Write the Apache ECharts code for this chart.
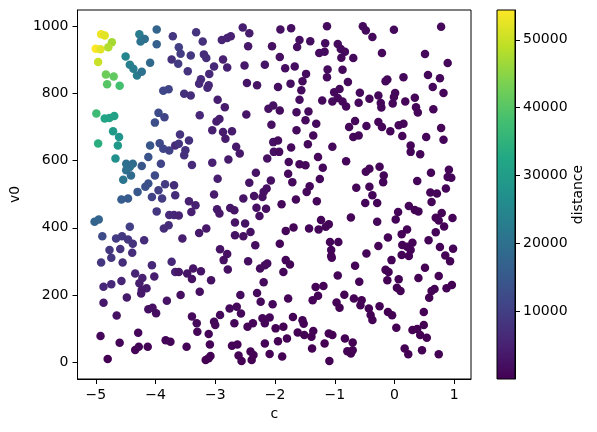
<!DOCTYPE html>
<html>
<head>
<meta charset="utf-8">
<script src="https://cdn.jsdelivr.net/npm/echarts@6/dist/echarts.min.js"></script>
<style>
  html, body { margin: 0; padding: 0; background: #fff; }
  #chart { width: 597px; height: 432px; }
</style>
</head>
<body>
<div id="chart"></div>
<script>
// each point: [c, v0, distance]
const brightPts = [
  [-4.91, 976, 53000], [-4.85, 972, 52000], [-4.73, 952, 47000], [-5.00, 933, 54400],
  [-4.92, 931, 52000], [-4.79, 937, 48000], [-4.96, 893, 50000], [-4.83, 856, 42000],
  [-4.70, 850, 41000], [-4.81, 827, 40000], [-4.60, 823, 38000], [-4.99, 740, 37000],
  [-4.85, 725, 32000], [-4.77, 727, 31500], [-4.69, 733, 31000], [-4.71, 687, 29000],
  [-4.61, 670, 28000], [-4.96, 651, 34000], [-4.63, 645, 29000], [-4.67, 606, 27000]
];

const leftUpperPts = [
  [-4.27, 976, 22500], [-4.18, 962, 20000], [-4.25, 954, 20500], [-3.98, 990, 17500],
  [-3.98, 946, 16500], [-4.50, 910, 24500], [-4.43, 885, 23500], [-4.37, 873, 23000],
  [-4.31, 853, 22500], [-4.23, 864, 20500], [-4.09, 891, 18500], [-3.87, 808, 11500],
  [-3.78, 812, 11000], [-3.95, 742, 12500], [-3.85, 729, 11000], [-4.01, 713, 13000],
  [-3.71, 970, 8500], [-3.73, 901, 7500], [-4.49, 591, 20000], [-4.38, 591, 19000],
  [-4.43, 581, 19500], [-4.49, 571, 20000], [-4.41, 556, 19000], [-4.54, 543, 21000],
  [-4.23, 584, 14500], [-4.09, 645, 14500], [-4.12, 611, 14000], [-3.93, 652, 12000],
  [-3.87, 635, 11500], [-3.77, 630, 10500], [-3.91, 591, 11000], [-3.67, 645, 6500],
  [-4.01, 556, 12000], [-4.12, 532, 13500], [-4.17, 522, 13500], [-4.30, 507, 15000],
  [-3.84, 530, 9500], [-3.95, 512, 10000], [-4.06, 492, 10500], [-3.89, 487, 9500],
  [-3.69, 527, 7000], [-3.67, 497, 7000], [-4.57, 484, 16000], [-4.46, 487, 15500],
  [-3.98, 449, 8500], [-3.77, 438, 6500], [-3.69, 438, 6000], [-5.02, 418, 17500],
  [-4.95, 425, 17500], [-4.43, 403, 10000], [-3.86, 398, 7000], [-3.78, 408, 7000],
  [-4.89, 375, 12500], [-4.66, 368, 9500], [-4.56, 375, 9000], [-4.46, 365, 8500],
  [-4.38, 353, 8000], [-4.19, 363, 7000], [-4.77, 334, 8500], [-4.59, 337, 8000],
  [-4.39, 326, 7000]
];

const leftLowerPts = [
  [-4.91, 297, 8500], [-4.74, 311, 8500], [-4.55, 297, 7000], [-4.34, 264, 5500],
  [-4.22, 251, 5000], [-4.27, 235, 4500], [-4.23, 215, 4000], [-4.15, 220, 4000],
  [-4.24, 205, 3800], [-4.06, 289, 6000], [-4.02, 255, 4500], [-4.87, 225, 6000],
  [-4.74, 232, 6000], [-4.57, 242, 5500], [-4.48, 193, 4000], [-4.87, 177, 3500],
  [-4.65, 139, 2500], [-4.12, 158, 2300], [-4.05, 162, 2400], [-3.99, 146, 2000],
  [-3.81, 183, 2800], [-3.73, 299, 6000], [-3.67, 269, 5000], [-4.92, 78, 1000],
  [-4.60, 58, 600], [-4.29, 88, 800], [-4.34, 37, 300], [-4.28, 46, 400],
  [-4.13, 46, 400], [-4.80, 10, 20], [-3.83, 66, 500], [-3.75, 61, 450]
];

const midPts = [
  [-3.61, 937, 10000], [-3.58, 918, 9500], [-3.62, 888, 9500], [-3.32, 982, 8000],
  [-3.21, 954, 7500], [-3.41, 913, 8500], [-3.46, 866, 8000], [-3.19, 916, 7000],
  [-3.15, 905, 7000], [-3.02, 880, 6000], [-3.10, 858, 6000], [-3.24, 842, 6500],
  [-3.27, 829, 6500], [-3.11, 824, 6000], [-3.13, 817, 6000], [-3.52, 799, 7500],
  [-3.41, 794, 7000], [-2.89, 959, 5500], [-2.80, 965, 5200], [-2.74, 970, 5000],
  [-2.87, 901, 5000], [-2.80, 877, 4600], [-2.54, 996, 4500], [-2.43, 979, 4200],
  [-2.45, 940, 3500], [-2.51, 883, 3500], [-2.17, 885, 3000], [-2.47, 831, 3000],
  [-2.30, 824, 2800], [-2.05, 940, 2500], [-2.96, 781, 4500], [-2.84, 759, 4200],
  [-3.26, 735, 6000], [-2.98, 716, 4500], [-2.93, 724, 4400], [-3.05, 690, 4800],
  [-2.87, 685, 4300], [-2.72, 687, 4000], [-2.48, 737, 3000], [-2.11, 754, 2500],
  [-2.03, 764, 2400], [-2.06, 707, 2200],
  [-3.59, 678, 8000], [-3.44, 660, 7500], [-3.61, 650, 8000], [-3.50, 631, 7500],
  [-3.52, 616, 7500], [-3.39, 587, 6500], [-2.83, 665, 4200], [-2.65, 641, 3800],
  [-2.59, 621, 3600], [-2.78, 603, 4000], [-3.05, 594, 5000], [-2.96, 546, 4500],
  [-2.32, 564, 2800], [-2.13, 606, 2500], [-2.03, 655, 2300], [-2.02, 626, 2200],
  [-2.43, 534, 3000], [-2.07, 541, 2200], [-2.14, 517, 2200], [-2.19, 507, 2300],
  [-3.02, 499, 4200], [-2.53, 487, 3000], [-2.35, 495, 2600], [-2.21, 492, 2300],
  [-3.44, 479, 5000], [-3.33, 467, 4800], [-3.40, 447, 4800], [-3.61, 437, 5500],
  [-2.97, 455, 3800], [-2.93, 443, 3600], [-2.75, 459, 3300], [-2.68, 452, 3100],
  [-2.31, 460, 2500], [-2.15, 457, 2200], [-2.26, 435, 2300], [-2.67, 416, 2800],
  [-2.50, 413, 2600], [-2.41, 388, 2300], [-3.27, 385, 3800], [-3.15, 398, 3600],
  [-3.55, 368, 4500], [-2.67, 378, 2600], [-2.53, 375, 2400], [-2.33, 348, 2000],
  [-2.92, 336, 2800], [-2.80, 322, 2500],
  [-2.86, 304, 2500], [-2.45, 301, 1800], [-2.25, 279, 1600], [-2.17, 289, 1600],
  [-2.13, 294, 1600], [-2.79, 276, 2300], [-3.61, 269, 3300], [-3.47, 264, 3000],
  [-3.37, 279, 3100], [-3.24, 271, 2900], [-3.39, 248, 2700], [-3.07, 244, 2400],
  [-2.19, 238, 1400], [-3.58, 200, 2100], [-3.26, 210, 2000], [-2.58, 200, 1500],
  [-2.30, 206, 1300], [-2.24, 180, 1100], [-2.04, 173, 1000], [-2.76, 160, 1200],
  [-2.64, 165, 1200], [-2.57, 145, 1000], [-2.92, 141, 1200], [-3.02, 121, 1000],
  [-3.00, 111, 950], [-3.39, 136, 1400], [-3.31, 116, 1100], [-2.68, 116, 850],
  [-2.46, 106, 700], [-2.37, 116, 750], [-2.21, 131, 800], [-2.09, 133, 750],
  [-2.17, 116, 650], [-3.30, 91, 700], [-3.11, 84, 600], [-3.09, 53, 350],
  [-3.48, 46, 350], [-2.72, 49, 300], [-2.63, 53, 300], [-3.08, 19, 100],
  [-3.16, 7, 40], [-3.11, 12, 70], [-2.61, 20, 100], [-2.56, 4, 20],
  [-2.41, 32, 150], [-2.36, 22, 100], [-2.39, 7, 30], [-2.17, 56, 250],
  [-2.09, 25, 100]
];

const rightPts = [
  [-1.91, 990, 2400], [-1.73, 994, 2200], [-1.13, 1000, 1700], [-0.53, 1000, 1400],
  [-0.48, 987, 1400], [-0.37, 968, 1300], [-1.59, 959, 2000], [-1.63, 938, 2000],
  [-1.41, 955, 1800], [-1.16, 949, 1600], [-1.26, 920, 1600], [-1.17, 924, 1600],
  [-0.95, 947, 1500], [-0.90, 932, 1450], [-0.83, 924, 1400], [-0.89, 906, 1400],
  [-0.69, 905, 1300], [-1.92, 908, 2200], [-1.83, 875, 2000], [-1.67, 880, 1900],
  [-1.48, 858, 1700], [-1.12, 871, 1500], [-1.13, 848, 1450], [-0.87, 870, 1300],
  [-1.95, 819, 2000], [-1.74, 829, 1800], [-1.54, 836, 1700], [-1.56, 809, 1600],
  [-1.59, 781, 1600], [-0.78, 834, 1250], [-1.01, 803, 1300], [-0.92, 813, 1250],
  [-0.95, 786, 1200], [-0.87, 776, 1150], [-0.81, 761, 1100], [-1.04, 776, 1200],
  [-1.21, 779, 1300], [-0.58, 802, 1100], [-0.42, 784, 1050], [-0.60, 772, 1050],
  [-1.92, 749, 1700], [-1.64, 744, 1500], [-1.44, 746, 1400], [-1.49, 720, 1350],
  [-1.31, 710, 1250], [-1.64, 690, 1400], [-0.66, 718, 1000], [-0.76, 700, 1000],
  [-0.47, 703, 950],
  [-0.01, 989, 1200], [0.78, 998, 1100], [-0.21, 920, 1150], [0.51, 917, 1050],
  [0.89, 890, 950], [-0.12, 841, 1000], [-0.15, 836, 1000], [0.15, 848, 950],
  [0.56, 855, 950], [0.76, 845, 900], [0.64, 819, 880], [0.82, 801, 850],
  [-0.27, 794, 950], [0.01, 801, 900], [-0.01, 789, 900], [-0.23, 771, 900],
  [-0.22, 758, 880], [-0.03, 770, 870], [0.18, 776, 850], [0.34, 787, 850],
  [0.36, 759, 820], [0.39, 743, 800], [0.65, 753, 780], [-0.27, 715, 800],
  [-0.21, 700, 780], [-0.07, 687, 760], [0.07, 705, 760], [0.15, 710, 750],
  [0.78, 697, 700],
  [-1.36, 675, 1200], [-0.69, 670, 950], [-0.60, 675, 900], [-1.95, 660, 1500],
  [-1.93, 626, 1400], [-1.73, 639, 1300], [-1.45, 649, 1200], [-1.04, 641, 1000],
  [-1.77, 596, 1250], [-1.78, 561, 1150], [-1.59, 589, 1150], [-1.49, 586, 1100],
  [-1.28, 611, 1050], [-1.20, 579, 1000], [-0.81, 598, 850], [-1.71, 536, 1050],
  [-1.25, 545, 950], [-1.42, 524, 950], [-1.47, 507, 920], [-0.48, 567, 750],
  [-0.42, 576, 750], [-0.64, 519, 700], [-0.42, 522, 680], [-0.37, 497, 650],
  [-0.49, 474, 620], [-1.65, 484, 900], [-1.30, 479, 800], [-1.89, 470, 950],
  [-0.73, 431, 560], [-1.23, 423, 650], [-1.10, 411, 600], [-1.27, 395, 600],
  [-1.15, 403, 600], [-1.43, 398, 650], [-1.69, 401, 700], [-1.82, 391, 720],
  [-1.92, 353, 650], [-1.08, 358, 480], [-0.94, 358, 460], [-1.06, 334, 430],
  [-1.06, 316, 400], [-0.47, 324, 350],
  [0.13, 673, 700], [0.53, 670, 650], [0.82, 662, 620], [0.27, 645, 650],
  [0.27, 626, 630], [0.43, 619, 600], [-0.25, 582, 650], [-0.18, 556, 600],
  [-0.19, 536, 580], [0.38, 539, 520], [0.61, 564, 520], [0.91, 573, 500],
  [0.89, 551, 480], [0.95, 549, 470], [0.60, 505, 450], [0.71, 502, 440],
  [0.86, 517, 440], [0.62, 477, 420], [-0.29, 474, 500], [0.24, 465, 430],
  [0.34, 453, 410], [0.40, 449, 400], [0.06, 447, 420], [0.02, 425, 400],
  [0.79, 444, 380], [0.69, 430, 370], [0.74, 422, 360], [0.97, 429, 360],
  [0.83, 404, 340], [-0.29, 418, 430], [0.21, 395, 360], [0.12, 381, 350],
  [-0.11, 371, 350], [0.57, 363, 320], [0.69, 387, 330], [0.30, 356, 310],
  [0.13, 349, 310], [0.21, 344, 300], [0.27, 334, 290], [0.12, 319, 280],
  [0.24, 316, 270], [-0.27, 346, 330], [0.76, 343, 290], [0.98, 338, 280],
  [0.85, 318, 260],
  [-1.82, 304, 600], [-1.75, 291, 560], [-1.86, 269, 500], [-1.05, 311, 420],
  [-0.66, 287, 320], [-0.95, 258, 300], [-0.59, 240, 250], [-1.32, 224, 330],
  [-1.19, 227, 320], [-1.28, 198, 270], [-1.37, 185, 250], [-0.84, 201, 220],
  [-1.78, 190, 300], [-0.97, 178, 200], [-0.92, 162, 180], [-0.68, 190, 180],
  [-0.55, 185, 170], [-0.57, 170, 150], [-0.43, 160, 130], [-0.40, 141, 110],
  [-0.37, 126, 100], [-1.70, 135, 180], [-1.54, 125, 160], [-1.52, 115, 140],
  [-1.86, 106, 140], [-1.99, 101, 140], [-1.62, 89, 100], [-1.51, 81, 80],
  [-1.39, 76, 70], [-1.36, 93, 100], [-1.80, 71, 80], [-1.95, 63, 70],
  [-1.10, 86, 70], [-1.04, 81, 60], [-1.17, 56, 40], [-1.38, 41, 25],
  [-0.83, 71, 40], [-0.70, 59, 30], [-0.79, 33, 10], [-0.73, 26, 8],
  [-0.70, 36, 12], [-1.88, 17, 5], [-1.09, 4, 1],
  [-0.05, 304, 250], [0.93, 301, 200], [-0.15, 275, 220], [-0.10, 269, 210],
  [-0.12, 244, 180], [0.07, 247, 170], [0.04, 222, 150], [0.10, 212, 140],
  [0.51, 281, 190], [0.40, 251, 160], [0.74, 257, 160], [0.67, 218, 120],
  [0.62, 212, 115], [0.58, 192, 100], [0.87, 220, 110], [0.96, 230, 120],
  [-0.25, 167, 90], [-0.11, 150, 75], [-0.04, 140, 65], [0.49, 150, 65],
  [0.03, 103, 35], [0.30, 96, 30], [0.38, 99, 30], [0.49, 111, 35],
  [0.43, 81, 20], [0.54, 73, 15], [0.17, 41, 6], [0.23, 24, 2],
  [0.46, 36, 4], [0.74, 24, 2]
];

const xTicks = [-5, -4, -3, -2, -1, 0, 1];
const yTicks = [0, 200, 400, 600, 800, 1000];
const distMin = 0;
const distMax = 54400;

const viridis = ['#440154', '#482475', '#414487', '#355f8d', '#2a788e', '#21918c',
  '#22a884', '#44bf70', '#7ad151', '#bddf26', '#fde725'];

const allPts = brightPts.concat(leftUpperPts, leftLowerPts, midPts, rightPts);

const font = 'DejaVu Sans';
const minus = v => (v < 0 ? '\u2212' + Math.abs(v) : String(v));

var chart = echarts.init(document.getElementById('chart'), null, { renderer: 'canvas' });

// colorbar gradient, yellow on top
var barStops = viridis.map((c, i) => ({ offset: 1 - i / (viridis.length - 1), color: c }));

var option = {
  animation: false,
  backgroundColor: '#fff',
  grid: [
    { left: 74, top: 10, width: 397, height: 369, show: true, borderColor: '#000', borderWidth: 1, backgroundColor: 'transparent' },
    { left: 497, top: 10, width: 18, height: 369, show: true, borderColor: '#000', borderWidth: 1,
      backgroundColor: new echarts.graphic.LinearGradient(0, 0, 0, 1, barStops) }
  ],
  xAxis: [
    {
      gridIndex: 0, type: 'value', min: -5.305, max: 1.28,
      name: 'c', nameLocation: 'middle', nameGap: 27,
      nameTextStyle: { fontFamily: font, fontSize: 14, color: '#000' },
      axisLine: { onZero: false, lineStyle: { color: '#000', width: 1 } },
      axisTick: { show: true, length: 5, lineStyle: { color: '#000' }, customValues: xTicks },
      axisLabel: { fontFamily: font, fontSize: 14, color: '#000', margin: 9, customValues: xTicks, formatter: minus },
      splitLine: { show: false }
    },
    { gridIndex: 1, type: 'value', min: 0, max: 1, show: false }
  ],
  yAxis: [
    {
      gridIndex: 0, type: 'value', min: -49.6, max: 1048,
      name: 'v0', nameLocation: 'middle', nameGap: 48, nameRotate: 90,
      nameTextStyle: { fontFamily: font, fontSize: 14, color: '#000' },
      axisLine: { onZero: false, lineStyle: { color: '#000', width: 1 } },
      axisTick: { show: true, length: 5, lineStyle: { color: '#000' }, customValues: yTicks },
      axisLabel: { fontFamily: font, fontSize: 14, color: '#000', margin: 9, customValues: yTicks, formatter: minus },
      splitLine: { show: false }
    },
    {
      gridIndex: 1, type: 'value', position: 'right', min: distMin, max: distMax, interval: 10000,
      name: 'distance', nameLocation: 'middle', nameGap: 55, nameRotate: 90,
      nameTextStyle: { fontFamily: font, fontSize: 14, color: '#000' },
      axisLine: { show: true, onZero: false, lineStyle: { color: '#000', width: 1 } },
      axisTick: { show: true, length: 5, lineStyle: { color: '#000' } },
      axisLabel: { fontFamily: font, fontSize: 14, color: '#000', margin: 8,
        showMinLabel: false, showMaxLabel: false, formatter: v => String(v) },
      splitLine: { show: false }
    }
  ],
  visualMap: {
    show: false, type: 'continuous', seriesIndex: 0, dimension: 2,
    min: distMin, max: distMax, inRange: { color: viridis }
  },
  series: [
    {
      type: 'scatter', xAxisIndex: 0, yAxisIndex: 0,
      symbol: 'circle', symbolSize: 8.5,
      itemStyle: { opacity: 1 },
      data: allPts
    }
  ]
};

chart.setOption(option);
</script>
</body>
</html>
